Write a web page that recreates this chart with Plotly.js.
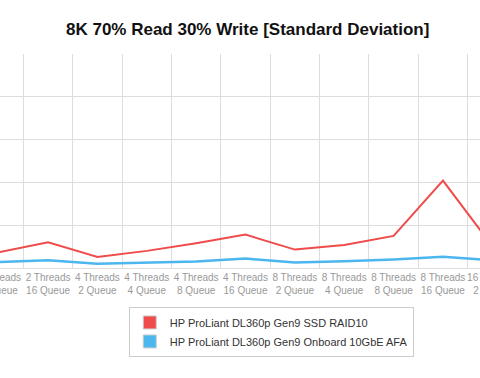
<!DOCTYPE html>
<html>
<head>
<meta charset="utf-8">
<script src="https://cdn.plot.ly/plotly-3.0.1.min.js"></script>
<style>
html,body{margin:0;padding:0;width:480px;height:378px;overflow:hidden;background:#fff;}
#chart{position:absolute;left:-26px;top:0;width:543px;height:378px;}
</style>
</head>
<body>
<div id="chart"></div>
<script>
var categories = [
  "2 Threads<br>8 Queue", "2 Threads<br>16 Queue",
  "4 Threads<br>2 Queue", "4 Threads<br>4 Queue", "4 Threads<br>8 Queue", "4 Threads<br>16 Queue",
  "8 Threads<br>2 Queue", "8 Threads<br>4 Queue", "8 Threads<br>8 Queue", "8 Threads<br>16 Queue",
  "16 Threads<br>2 Queue"
];
var seriesNames = ["HP ProLiant DL360p Gen9 SSD RAID10", "HP ProLiant DL360p Gen9 Onboard 10GbE AFA"];
var seriesColors = ["#f04b4b", "#4bb7ee"];
var ssdRaid10 = [0.37, 0.60, 0.26, 0.40, 0.58, 0.78, 0.43, 0.54, 0.75, 2.04, 0.51];
var onboardAfa = [0.14, 0.18, 0.10, 0.12, 0.15, 0.22, 0.13, 0.16, 0.20, 0.26, 0.18];
var seriesValues = [ssdRaid10, onboardAfa];
var lineWidths = [2, 2.5];

var traces = [];
for (var i = 0; i < seriesNames.length; i++) {
  traces.push({
    type: "scatter", mode: "lines", x: categories, y: seriesValues[i],
    name: seriesNames[i], legendgroup: "g" + i, showlegend: false,
    line: {color: seriesColors[i], width: lineWidths[i]}, hoverinfo: "x+y+name"
  });
}
for (var j = 0; j < seriesNames.length; j++) {
  traces.push({
    type: "scatter", mode: "markers", x: [null], y: [null],
    name: seriesNames[j], legendgroup: "g" + j, showlegend: true,
    marker: {symbol: "square", size: 13, color: seriesColors[j], line: {color: "#cccccc", width: 1}}
  });
}

var layout = {
  width: 543, height: 378,
  margin: {l: 0, r: 0, t: 54, b: 110},
  paper_bgcolor: "#fff", plot_bgcolor: "#fff",
  font: {family: "Liberation Sans, Arial, sans-serif", color: "#333"},
  title: {text: "8K 70% Read 30% Write [Standard Deviation]", x: 0.504, xanchor: "center",
          y: 0.923, yanchor: "middle", font: {size: 17, color: "#111", weight: "bold"}},
  xaxis: {type: "category", range: [-0.5, 10.5], tickson: "boundaries", showgrid: true, gridcolor: "#dddddd", gridwidth: 1,
          showline: true, linecolor: "#dddddd", linewidth: 1, ticks: "", fixedrange: true,
          tickfont: {size: 10, color: "#999999"}, tickangle: 0, automargin: false},
  yaxis: {range: [0, 5], dtick: 1, showgrid: true, gridcolor: "#dddddd", gridwidth: 1,
          zeroline: false, showticklabels: false, ticks: "", fixedrange: true},
  showlegend: true,
  legend: {x: 0.285, xanchor: "left", y: -0.182, yanchor: "top", orientation: "v",
           bgcolor: "#fff", bordercolor: "#cccccc", borderwidth: 1,
           font: {size: 11, color: "#333"}, itemwidth: 30, tracegroupgap: 0}
};
Plotly.newPlot("chart", traces, layout, {displayModeBar: false, staticPlot: true});
</script>
</body>
</html>
